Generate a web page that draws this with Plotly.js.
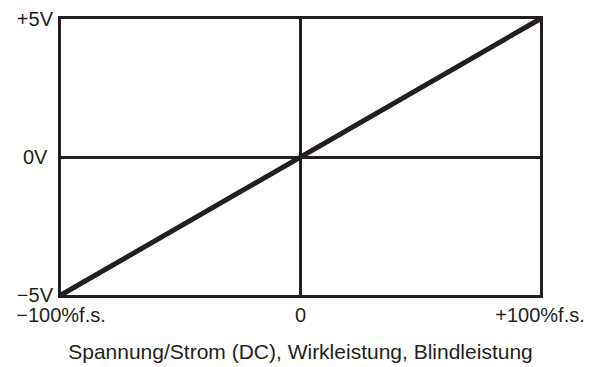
<!DOCTYPE html>
<html>
<head>
<meta charset="utf-8">
<script src="https://cdn.plot.ly/plotly-3.0.1.min.js"></script>
<style>html,body{margin:0;padding:0;background:#fff;}#chart{width:589px;height:367px;}</style>
</head>
<body>
<div id="chart"></div>
<script>
const inputPercent = [-100, 100];
const outputVolt = [-5, 5];
const xTickVals = [-100, 0, 100];
const xTickText = ["\u2212100%f.s.", "0", "+100%f.s."];
const yTickVals = [-5, 0, 5];
const yTickText = ["\u22125V", "0V\u00A0", "+5V"];
const xTitle = "Spannung/Strom (DC), Wirkleistung, Blindleistung";

const ink = "#231f20";
const tickFont = {family: "Liberation Sans, Arial, sans-serif", size: 20, color: ink};
const titleFont = {family: "Liberation Sans, Arial, sans-serif", size: 21, color: ink};

Plotly.newPlot("chart", [{
  x: inputPercent, y: outputVolt, mode: "lines", type: "scatter",
  line: {color: ink, width: 5}, hoverinfo: "skip"
}], {
  width: 589, height: 367,
  margin: {l: 61, r: 49, t: 19, b: 72},
  paper_bgcolor: "#fff", plot_bgcolor: "#fff",
  showlegend: false,
  font: tickFont,
  xaxis: {
    range: [-100, 100], tickvals: xTickVals, ticktext: xTickText,
    showgrid: false, zeroline: true, zerolinecolor: ink, zerolinewidth: 3,
    showline: true, mirror: true, linecolor: ink, linewidth: 3,
    ticks: "", tickfont: tickFont, ticklabelstandoff: 0,
    title: {text: xTitle, font: titleFont, standoff: 20}, fixedrange: true
  },
  yaxis: {
    range: [-5, 5], tickvals: yTickVals, ticktext: yTickText,
    showgrid: false, zeroline: true, zerolinecolor: ink, zerolinewidth: 3,
    showline: true, mirror: true, linecolor: ink, linewidth: 3,
    ticks: "", tickfont: tickFont, ticklabelshift: 0, ticklabelstandoff: 1, fixedrange: true
  }
}, {staticPlot: true, displayModeBar: false});
</script>
</body>
</html>
